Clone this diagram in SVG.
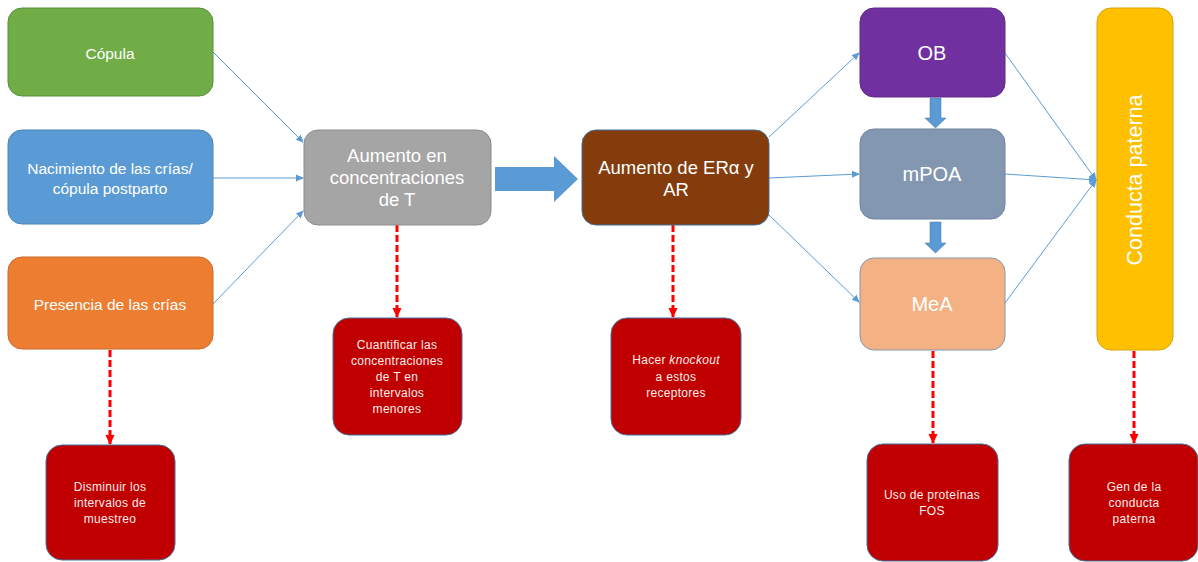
<svg xmlns="http://www.w3.org/2000/svg" width="1198" height="562" viewBox="0 0 1198 562">
<defs>
<marker id="ab" markerWidth="8" markerHeight="8" refX="7" refY="4" orient="auto" markerUnits="userSpaceOnUse"><path d="M0,0.5 L8,4 L0,7.5 Z" fill="#5B9BD5"/></marker>
<marker id="ar" markerWidth="10" markerHeight="10" refX="9" refY="5" orient="auto" markerUnits="userSpaceOnUse"><path d="M0,0.5 L10,5 L0,9.5 Z" fill="#FF0000"/></marker>
</defs>
<style>
text{font-family:"Liberation Sans",Arial,sans-serif;fill:#fff;text-anchor:middle;dominant-baseline:central}
.t14{font-size:15.5px}.t17{font-size:18.5px}.t19{font-size:20px}.t21{font-size:21.5px}.t12{font-size:12px;letter-spacing:0.3px;fill:#FBECEC}
.blue{stroke:#5B9BD5;stroke-width:1;fill:none;marker-end:url(#ab)}
.red{stroke:#FF0000;stroke-width:3;stroke-dasharray:7,3;fill:none;marker-end:url(#ar)}
.rb{fill:#C00000;stroke:#41719C;stroke-width:1}
</style>
<rect width="1198" height="562" fill="#fff"/>
<g id="connectors">
<path class="blue" d="M213,52 L303,142"/>
<path class="blue" d="M213,178 L303,178"/>
<path class="blue" d="M213,304 L303,211"/>
<path class="blue" d="M769,137 L859,53"/>
<path class="blue" d="M769,178 L859,174"/>
<path class="blue" d="M769,215 L859,302"/>
<path class="blue" d="M1005,53 L1096,180"/>
<path class="blue" d="M1005,174 L1096,180"/>
<path class="blue" d="M1005,303 L1096,180"/>
<path d="M495,167 L554,167 L554,156 L578,179 L554,202 L554,191 L495,191 Z" fill="#5B9BD5"/>
<path d="M930,98 L941,98 L941,118 L946,118 L935.5,128 L925,118 L930,118 Z" fill="#5B9BD5" stroke="#41719C" stroke-width="0.5"/>
<path d="M930,222 L941,222 L941,243 L946,243 L935.5,253 L925,243 L930,243 Z" fill="#5B9BD5" stroke="#41719C" stroke-width="0.5"/>
<path class="red" d="M110,350 L110,444"/>
<path class="red" d="M397,225 L397,317"/>
<path class="red" d="M673,225 L673,317"/>
<path class="red" d="M933,351 L933,443"/>
<path class="red" d="M1134,351 L1134,443"/>
</g>
<g id="copula"><rect x="8" y="8" width="205" height="88" rx="14" fill="#70AD47" stroke="#5B8F3A"/><text class="t14" x="110" y="53">Cópula</text></g>
<g id="nacimiento"><rect x="8" y="130" width="205" height="94" rx="14" fill="#5B9BD5" stroke="#4A84B8"/><text class="t14" x="110" y="168">Nacimiento de las crías/</text><text class="t14" x="110" y="188">cópula postparto</text></g>
<g id="presencia"><rect x="8" y="257" width="205" height="92" rx="14" fill="#ED7D31" stroke="#C96A2A"/><text class="t14" x="110" y="304">Presencia de las crías</text></g>
<g id="aumentoT"><rect x="304" y="130" width="187" height="95" rx="14" fill="#A5A5A5" stroke="#8C8C8C"/><text class="t17" x="397" y="155">Aumento en</text><text class="t17" x="397" y="177">concentraciones</text><text class="t17" x="397" y="199">de T</text></g>
<g id="aumentoER"><rect x="582" y="130" width="187" height="95" rx="14" fill="#843C0C" stroke="#41719C"/><text class="t17" x="676" y="167">Aumento de ERα y</text><text class="t17" x="676" y="189">AR</text></g>
<g id="ob"><rect x="860" y="8" width="145" height="89" rx="14" fill="#7030A0" stroke="#5F2988"/><text class="t19" x="932" y="53">OB</text></g>
<g id="mpoa"><rect x="860" y="129" width="145" height="90" rx="14" fill="#8497B0" stroke="#6F82A0"/><text class="t19" x="932" y="174">mPOA</text></g>
<g id="mea"><rect x="860" y="258" width="145" height="92" rx="14" fill="#F4B183" stroke="#8497B0"/><text class="t19" x="932" y="304">MeA</text></g>
<g id="conducta"><rect x="1097" y="8" width="76" height="342" rx="14" fill="#FFC000" stroke="#D9A300"/><text class="t21" transform="translate(1135,180) rotate(-90)" x="0" y="0">Conducta paterna</text></g>
<g id="disminuir"><rect class="rb" x="46" y="445" width="129" height="115" rx="16"/><text class="t12" x="110" y="487">Disminuir los</text><text class="t12" x="110" y="503">intervalos  de</text><text class="t12" x="110" y="519">muestreo</text></g>
<g id="cuantificar"><rect class="rb" x="333" y="318" width="129" height="117" rx="16"/><text class="t12" x="397" y="345">Cuantificar  las</text><text class="t12" x="397" y="361">concentraciones</text><text class="t12" x="397" y="377">de T  en</text><text class="t12" x="397" y="393">intervalos</text><text class="t12" x="397" y="409">menores</text></g>
<g id="knockout"><rect class="rb" x="611" y="318" width="130" height="117" rx="16"/><text class="t12" x="676" y="360">Hacer <tspan font-style="italic">knockout</tspan></text><text class="t12" x="676" y="377">a estos</text><text class="t12" x="676" y="393">receptores</text></g>
<g id="fos"><rect class="rb" x="867" y="444" width="131" height="117" rx="16"/><text class="t12" x="932" y="495">Uso de proteínas</text><text class="t12" x="932" y="511">FOS</text></g>
<g id="gen"><rect class="rb" x="1069" y="444" width="129" height="117" rx="16"/><text class="t12" x="1134" y="487">Gen de la</text><text class="t12" x="1134" y="503">conducta</text><text class="t12" x="1134" y="519">paterna</text></g>
</svg>
